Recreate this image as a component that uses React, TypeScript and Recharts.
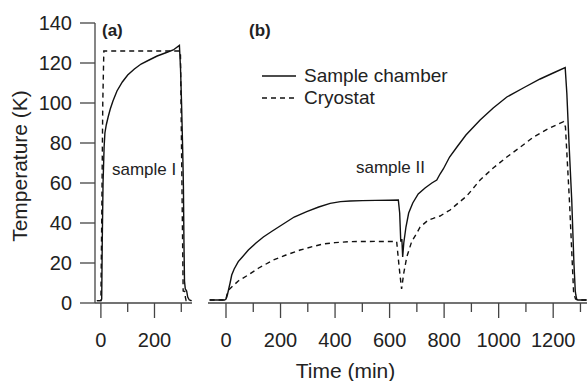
import { LineChart, Line, XAxis, YAxis, Legend } from "recharts";

// panel (a), sample I
const chamberATime = [-15, 0, 3, 5, 8, 12, 15, 20, 27, 35, 45, 60, 80, 100, 125, 150, 180, 210, 240, 270, 293, 297, 301, 305, 308, 310, 312, 315, 320, 324, 330, 338];
const chamberATemp = [1.2, 1.2, 2, 30, 60, 78, 85, 89, 93, 97, 101, 106, 110.5, 114, 117, 119.5, 121.5, 123.5, 125, 126.5, 128.8, 118, 100, 78, 58, 30, 11, 7, 6, 3, 1.5, 1.2];
const cryoATime = [-15, 0, 3, 7, 11, 150, 295, 297, 307, 313, 315, 318, 338];
const cryoATemp = [1.2, 1.2, 40, 100, 126, 126, 126, 124, 6, 5.7, 3, 1.2, 1.2];

// panel (b), sample II
const chamberBTime = [-60, -5, 0, 5, 10, 15, 21, 30, 45, 60, 82, 110, 137, 170, 210, 250, 296, 340, 382, 420, 455, 500, 550, 600, 632, 637, 641, 645, 648, 652, 660, 670, 685, 705, 730, 755, 773, 785, 797, 820, 847, 880, 932, 980, 1030, 1090, 1152, 1200, 1244, 1250, 1258, 1268, 1276, 1281, 1283, 1286, 1290, 1323];
const chamberBTemp = [1.5, 1.5, 2, 4, 7, 10, 14, 17, 20.7, 23, 26.5, 30, 33, 36, 39.5, 43, 45.7, 48, 49.8, 50.7, 51, 51.2, 51.3, 51.4, 51.5, 45, 30.7, 32, 23, 30, 38, 45, 50, 54.5, 57.5, 60, 61.5, 64.5, 67, 73, 78, 84, 91.5, 97.5, 103, 107.5, 112, 115, 117.7, 105, 80, 51.5, 20, 6, 4, 2, 1.5, 1.5];
const cryoBTime = [-60, 0, 3, 10, 21, 45, 81, 120, 174, 220, 272, 320, 357, 400, 455, 550, 626, 635, 644, 652, 663, 681, 700, 712, 742, 760, 785, 822, 852, 883, 932, 980, 1030, 1080, 1128, 1180, 1238, 1245, 1260, 1275, 1282, 1290, 1323];
const cryoBTemp = [1.5, 1.5, 4, 6.5, 8, 11, 14, 17.5, 21.5, 24, 26.5, 28.3, 29.5, 30.2, 30.7, 30.8, 30.7, 18, 7, 15, 23, 30.7, 35, 38, 41.5, 42.3, 43.5, 46.5, 50, 53.5, 61.5, 67.5, 73, 78, 83, 87, 90.7, 88, 50, 5, 2, 1.5, 1.5];

const tempTicks = [0, 20, 40, 60, 80, 100, 120, 140];
const timeTicksA = [0, 100, 200, 300];
const timeTicksB = [0, 100, 200, 300, 400, 500, 600, 700, 800, 900, 1000, 1100, 1200, 1300];
const legendOrder = ["Sample chamber", "Cryostat"];

const toPoints = (ts: number[], vs: number[]) => ts.map((t, i) => ({ t, T: vs[i] }));

const FONT = "'Liberation Sans', Arial, Helvetica, sans-serif";
const INK = "#222";
const AXIS = "#444";
const LINE = "#111";

function TimeTick(props: any) {
  const { x, y, payload } = props;
  const v = Number(payload.value);
  const major = Math.abs(v / 200 - Math.round(v / 200)) < 1e-6;
  return (
    <g>
      <line x1={x} x2={x} y1={y} y2={y + (major ? 15 : 9)} stroke={AXIS} strokeWidth={1.3} />
      {major && (
        <text x={x} y={y + 44} textAnchor="middle" fontSize={20} fill={INK} fontFamily={FONT}>
          {Math.round(v)}
        </text>
      )}
    </g>
  );
}

// y title: rotated, centred a bit below the middle of the axis like the original
function TempTitle(props: any) {
  const cx = 20;
  const cy = 166;
  return (
    <text x={cx} y={cy} dy="0.35em" transform={`rotate(-90, ${cx}, ${cy})`} textAnchor="middle"
      fontSize={21} fill={INK} fontFamily={FONT}>
      {props.value}
    </text>
  );
}

function LegendBox(props: any) {
  const items = [...(props.payload || [])].sort(
    (a: any, b: any) => legendOrder.indexOf(a.value) - legendOrder.indexOf(b.value)
  );
  return (
    <div style={{ fontFamily: FONT, color: INK }}>
      {items.map((entry: any) => (
        <div key={entry.value} style={{ display: "flex", alignItems: "center", height: 22 }}>
          <svg width={34} height={4}>
            <line x1={0} y1={2} x2={34} y2={2} stroke={LINE} strokeWidth={1.3}
              strokeDasharray={entry.payload?.strokeDasharray} />
          </svg>
          <span style={{ marginLeft: 8, fontSize: 19 }}>{entry.value}</span>
        </div>
      ))}
    </div>
  );
}

const note = (left: number, top: number, bold = false) => ({
  position: "absolute" as const,
  left,
  top,
  fontFamily: FONT,
  fontSize: 17,
  lineHeight: "20px",
  fontWeight: bold ? 700 : 400,
  color: INK,
  whiteSpace: "nowrap" as const,
});

export default function App() {
  return (
    <div style={{ position: "absolute", left: 0, top: 0, width: 587, height: 381, background: "#fff" }}>
      <div style={{ position: "absolute", left: 0, top: 0 }}>
        <LineChart width={200} height={381} margin={{ top: 23, right: 8, left: 0, bottom: 0 }}>
          <XAxis type="number" dataKey="t" domain={[-22, 340]} ticks={timeTicksA} allowDataOverflow
            interval={0} height={78} tickSize={0} tickMargin={0} tickLine={false} tick={<TimeTick />}
            axisLine={{ stroke: AXIS, strokeWidth: 1.3 }} />
          <YAxis type="number" dataKey="T" domain={[0, 140]} ticks={tempTicks} width={95} interval={0}
            tickSize={15} tickMargin={8} tickLine={{ stroke: AXIS, strokeWidth: 1.3 }}
            axisLine={{ stroke: AXIS, strokeWidth: 1.3 }}
            tick={{ fontSize: 20, fill: INK, fontFamily: FONT }}
            label={{ value: "Temperature (K)", content: <TempTitle value="Temperature (K)" /> }} />
          <Line data={toPoints(chamberATime, chamberATemp)} dataKey="T" name="Sample chamber" type="linear"
            stroke={LINE} strokeWidth={1.4} dot={false} isAnimationActive={false} />
          <Line data={toPoints(cryoATime, cryoATemp)} dataKey="T" name="Cryostat" type="linear"
            stroke={LINE} strokeWidth={1.4} strokeDasharray="5 4" dot={false} isAnimationActive={false} />
        </LineChart>
      </div>
      <div style={{ position: "absolute", left: 208, top: 0 }}>
        <LineChart width={379} height={381} margin={{ top: 23, right: 0, left: 0, bottom: 0 }}>
          <XAxis type="number" dataKey="t" domain={[-66, 1324]} ticks={timeTicksB} allowDataOverflow
            interval={0} height={78} tickSize={0} tickMargin={0} tickLine={false} tick={<TimeTick />}
            axisLine={{ stroke: AXIS, strokeWidth: 1.3 }}
            label={{ value: "Time (min)", position: "insideBottom", offset: 3, dx: -52,
              style: { fontSize: 21, fill: INK, fontFamily: FONT } }} />
          <YAxis type="number" dataKey="T" domain={[0, 140]} hide />
          <Legend layout="vertical" align="center" verticalAlign="middle" content={<LegendBox />}
            wrapperStyle={{ position: "absolute", left: 54, top: 65, width: "auto", height: "auto" }} />
          <Line data={toPoints(chamberBTime, chamberBTemp)} dataKey="T" name="Sample chamber" type="linear"
            stroke={LINE} strokeWidth={1.4} dot={false} isAnimationActive={false} />
          <Line data={toPoints(cryoBTime, cryoBTemp)} dataKey="T" name="Cryostat" type="linear"
            stroke={LINE} strokeWidth={1.4} strokeDasharray="5 4" dot={false} isAnimationActive={false} />
        </LineChart>
      </div>
      <div style={note(102, 21, true)}>(a)</div>
      <div style={note(249, 21, true)}>(b)</div>
      <div style={note(112, 160)}>sample I</div>
      <div style={note(356, 158)}>sample II</div>
    </div>
  );
}
